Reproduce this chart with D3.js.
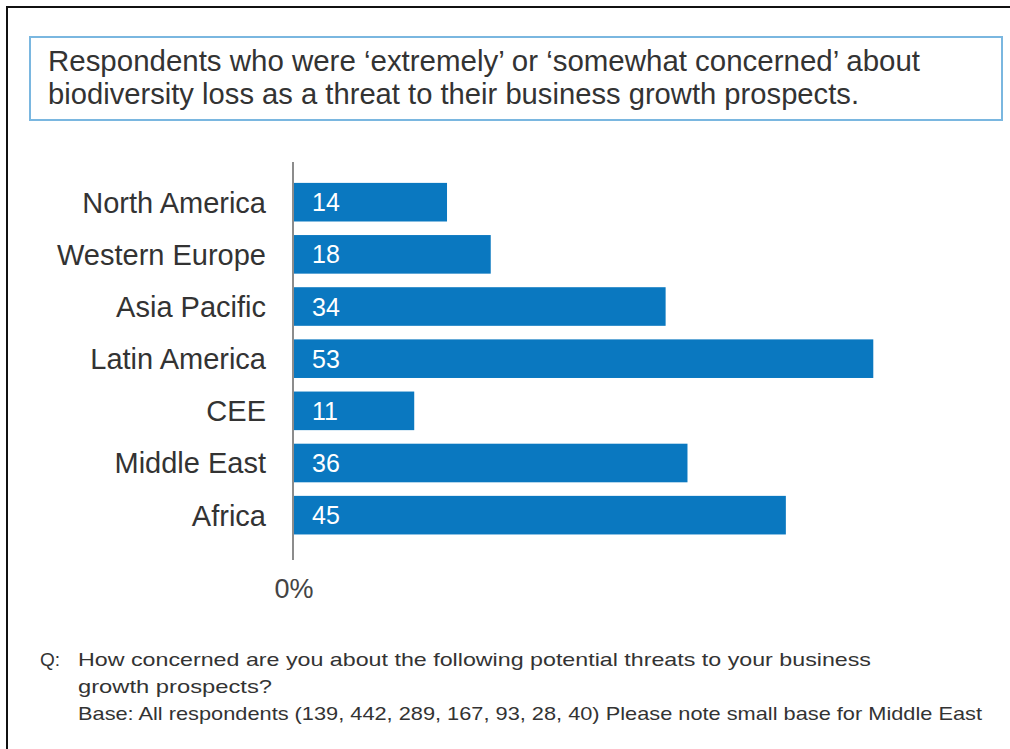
<!DOCTYPE html>
<html>
<head>
<meta charset="utf-8">
<script src="https://cdn.jsdelivr.net/npm/d3@7"></script>
<style>
  html, body { margin: 0; padding: 0; background: #fff; }
  svg { display: block; font-family: "Liberation Sans", Arial, sans-serif; }
</style>
</head>
<body>
<div id="chart"></div>
<script>
// chart data
var regions = ["North America", "Western Europe", "Asia Pacific", "Latin America", "CEE", "Middle East", "Africa"];
var concerned = [14, 18, 34, 53, 11, 36, 45];
var axisLabel = "0%";
var titleLines = [
    "Respondents who were \u2018extremely\u2019 or \u2018somewhat concerned\u2019 about",
    "biodiversity loss as a threat to their business growth prospects."
];
var noteLines = [
    "How concerned are you about the following potential threats to your business",
    "growth prospects?",
    "Base: All respondents (139, 442, 289, 167, 93, 28, 40)  Please note small base for Middle East"
];

var width = 1010, height = 749;
var barColor = "#0a78c0";

var svg = d3.select("#chart")
    .append("svg")
    .attr("width", width)
    .attr("height", height);

// outer frame
svg.append("rect")
    .attr("x", 7).attr("y", 7)
    .attr("width", 1010).attr("height", 760)
    .attr("fill", "none")
    .attr("stroke", "#111")
    .attr("stroke-width", 2);

// title box
svg.append("rect")
    .attr("x", 30).attr("y", 37)
    .attr("width", 972).attr("height", 83)
    .attr("fill", "none")
    .attr("stroke", "#7ab7e0")
    .attr("stroke-width", 2);

var titleWidths = [872, 811];
svg.selectAll(".title")
    .data(titleLines)
    .enter().append("text")
    .attr("class", "title")
    .attr("x", 48)
    .attr("y", function (d, i) { return 71 + i * 33; })
    .attr("textLength", function (d, i) { return titleWidths[i]; })
    .attr("lengthAdjust", "spacingAndGlyphs")
    .attr("fill", "#333")
    .style("font-size", "29px")
    .text(function (d) { return d; });

// scales
var x = d3.scaleLinear().domain([0, 60]).range([294, 294 + 60 * 10.93]);
var y = d3.scaleBand()
    .domain(regions)
    .range([162, 560])
    .paddingInner(0.26)
    .paddingOuter(0.445)
    .align(0.45);

// vertical axis line
svg.append("line")
    .attr("x1", 293).attr("x2", 293)
    .attr("y1", y.range()[0]).attr("y2", y.range()[1])
    .attr("stroke", "#666")
    .attr("stroke-width", 1.5);

// bars
svg.selectAll(".bar")
    .data(concerned)
    .enter().append("rect")
    .attr("class", "bar")
    .attr("x", x(0))
    .attr("y", function (d, i) { return y(regions[i]); })
    .attr("width", function (d) { return x(d) - x(0); })
    .attr("height", y.bandwidth())
    .attr("fill", barColor);

// value labels
svg.selectAll(".val")
    .data(concerned)
    .enter().append("text")
    .attr("class", "val")
    .attr("x", x(0) + 18)
    .attr("y", function (d, i) { return y(regions[i]) + y.bandwidth() / 2; })
    .attr("dy", "0.36em")
    .attr("fill", "#fff")
    .style("font-size", "25px")
    .text(function (d) { return d; });

// category labels
svg.selectAll(".cat")
    .data(regions)
    .enter().append("text")
    .attr("class", "cat")
    .attr("x", 266)
    .attr("y", function (d) { return y(d) + y.bandwidth() / 2; })
    .attr("dy", "0.36em")
    .attr("text-anchor", "end")
    .attr("fill", "#333")
    .style("font-size", "29px")
    .text(function (d) { return d; });

// 0% label
svg.append("text")
    .attr("x", x(0))
    .attr("y", 598)
    .attr("text-anchor", "middle")
    .attr("fill", "#444")
    .style("font-size", "27px")
    .text(axisLabel);

// footnote
svg.append("text")
    .attr("x", 40)
    .attr("y", 666)
    .attr("fill", "#333")
    .style("font-size", "19px")
    .text("Q:");

var noteWidths = [793, 194, 904];
svg.selectAll(".note")
    .data(noteLines)
    .enter().append("text")
    .attr("class", "note")
    .attr("x", 78)
    .attr("y", function (d, i) { return 666 + i * 27; })
    .attr("textLength", function (d, i) { return noteWidths[i]; })
    .attr("lengthAdjust", "spacingAndGlyphs")
    .attr("fill", "#333")
    .style("font-size", "19px")
    .text(function (d) { return d; });
</script>
</body>
</html>
